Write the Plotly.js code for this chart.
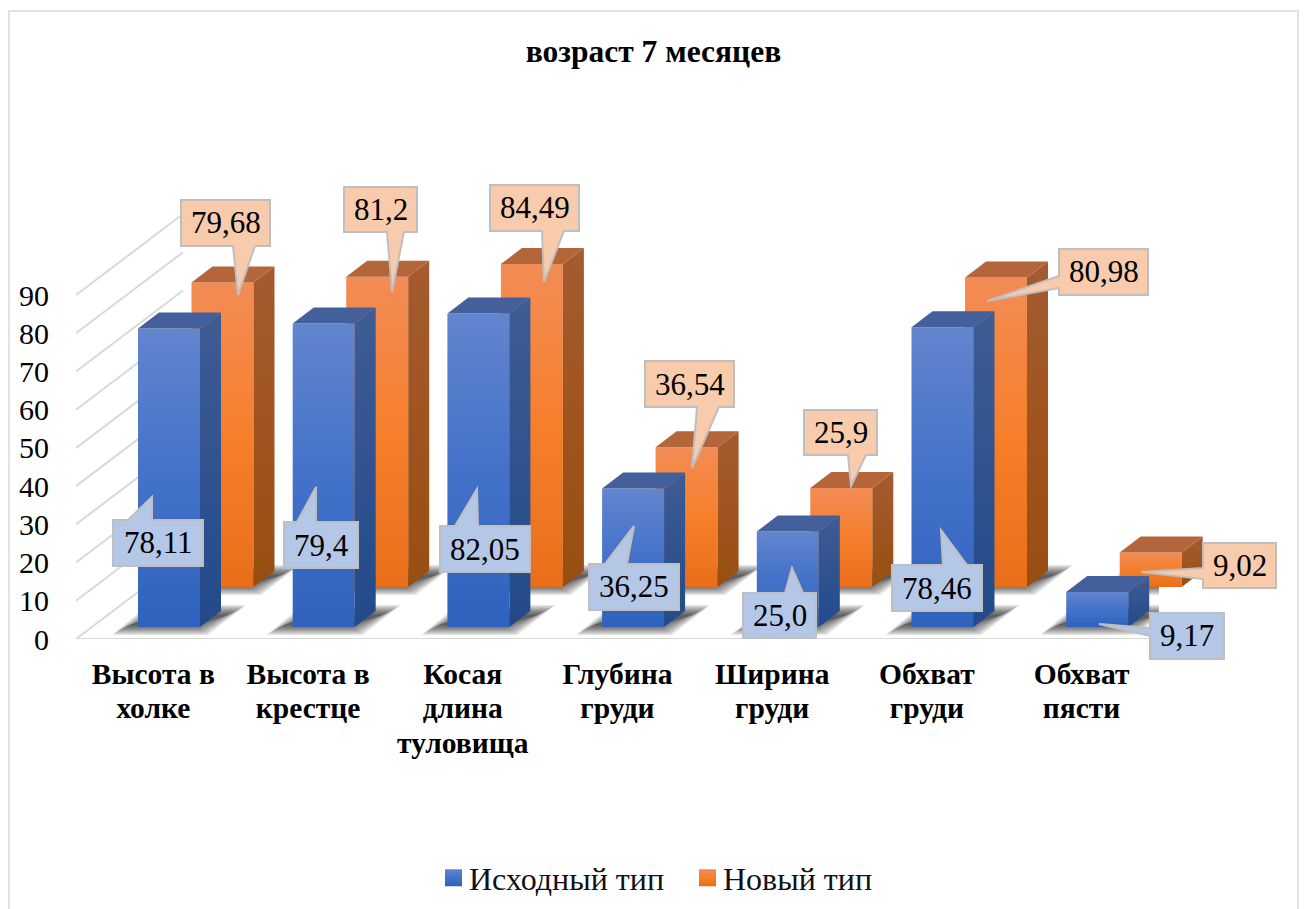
<!DOCTYPE html>
<html>
<head>
<meta charset="utf-8">
<script src="https://cdn.plot.ly/plotly-3.0.1.min.js"></script>
<style>html,body{margin:0;padding:0;background:#fff;overflow:hidden}#chart{width:1305px;height:909px}</style>
</head>
<body>
<div id="chart"></div>
<script>
// ---------- data ----------
const categories = ['Высота в<br>холке','Высота в<br>крестце','Косая<br>длина<br>туловища','Глубина<br>груди','Ширина<br>груди','Обхват<br>груди','Обхват<br>пясти'];
const baseValues = [78.11,79.4,82.05,36.25,25.0,78.46,9.17];
const newValues  = [79.68,81.2,84.49,36.54,25.9,80.98,9.02];
const baseLabels = ['78,11','79,4','82,05','36,25','25,0','78,46','9,17'];
const newLabels  = ['79,68','81,2','84,49','36,54','25,9','80,98','9,02'];
const yTicks = [0,10,20,30,40,50,60,70,80,90];
const seriesNames = ['Исходный тип','Новый тип'];
const chartTitle = 'возраст 7 месяцев';

// ---------- layout constants (pixels on the 1305x909 page) ----------
const W=1305,H=909,FONT='"Liberation Serif","Times New Roman",serif';
const PX_CAT=154.7, PX_UNIT=3.822;
const px2x=p=>p/PX_CAT, px2y=p=>p/PX_UNIT;
const HALF=px2x(31), DX=px2x(21), DY=px2y(16);
const xDom=(l,span)=>[l/W,(l+span*PX_CAT)/W];
const yDom=(bottom,range)=>[(H-bottom)/H,(H-bottom+range*PX_UNIT)/H];
const ROWS={ blue:{left:91.65,bottom:627}, orange:{left:145.15,bottom:587} };
const FLOOR={left:76,bottom:639};
const WALL={left:183,bottom:559};
const idx=categories.map((_,i)=>i);

// callouts relative to the top centre of their bar: [left,top,right,bottom,side,a,b,tipX,tipY], y down
const baseCallouts=[
 [-56,191.5,34,237.5,'T',-41,-17,-17,168.5],
 [-39.7,198.5,34.3,244.5,'T',-26.7,-7.7,-7.7,163.5],
 [-38.4,212.6,51.6,258.6,'T',-23.4,-0.4,-1.4,175.6],
 [-44.1,75.5,45.9,121.5,'T',-28.1,-6.1,0.9,37.5],
 [-44.8,61.55,28.2,106.55,'T',-2.8,15.2,4.2,36.55],
 [-50.5,237.9,39.5,283.9,'T',0.5,24.5,-1.5,202.9],
 [52.8,21,126.8,67,'L',36,44,1.8,32]];
const newCallouts=[
 [-41.5,-82.5,47.5,-36.5,'B',10.5,32.5,15.5,12.5],
 [-33.2,-89.7,39.8,-44.7,'B',9.8,26.8,14.8,15.3],
 [-41.9,-79.1,47.1,-33.1,'B',10.1,32.1,12.1,17.9],
 [-41.6,-86.3,47.4,-40.3,'B',10.4,32.4,5.4,20.7],
 [-37.3,-78,35.7,-33,'B',6.7,24.7,9.7,-2],
 [63,-28.5,152,17.5,'L',-1.5,10.5,-9,23.5],
 [52.3,-9.5,125.3,35.5,'L',15.5,26.5,-9.7,19.5]];

// ---------- traces ----------
const traces=[];
// floor and left wall lines (floor axes)
const gridX=[],gridY=[];
yTicks.forEach(v=>{gridX.push(-0.5,-0.5+px2x(107),null);gridY.push(v,v+px2y(81),null);});
gridX.push(-0.5,6.5);gridY.push(0,0);
traces.push({x:gridX,y:gridY,xaxis:'x2',yaxis:'y2',mode:'lines',line:{color:'#d9d9d9',width:2},hoverinfo:'skip',showlegend:false});
// floor shadows: nested translucent layers give a soft edge
const SHADOW_STEPS=[5,3.75,2.5,1.25,0,-1.25,-2.5,-3.75,-5];
function shadowTrace(count,xOff,base,d){
  const xs=[],ys=[];
  for(let i=0;i<count;i++){
    const cx=i+px2x(xOff), w=px2y(base);
    const k=1.6*d;
    [[-49-k,-3-d],[31+k,-3-d],[69+k,17+d],[-13-k,17+d],[-49-k,-3-d]].forEach(p=>{xs.push(cx+px2x(p[0]));ys.push(w+px2y(p[1]));});
    xs.push(null);ys.push(null);
  }
  return {x:xs,y:ys,xaxis:'x2',yaxis:'y2',mode:'none',fill:'toself',fillcolor:'rgba(0,0,0,0.10)',hoverinfo:'skip',showlegend:false};
}
SHADOW_STEPS.forEach(d=>{
  traces.push(shadowTrace(newValues.length,222.5-153.35,FLOOR.bottom-ROWS.orange.bottom,d));
  traces.push(shadowTrace(baseValues.length,169-153.35,FLOOR.bottom-ROWS.blue.bottom,d));
});
// one bar row = front faces + side faces + top faces
function row(values,name,xa,ya,front,top){
  traces.push({type:'bar',x:idx,y:values,name:name,width:2*HALF,xaxis:xa,yaxis:ya,marker:{color:front,line:{width:0}},hoverinfo:'skip',showlegend:true});
  values.forEach((v,i)=>{
    const r=i+HALF;
    traces.push({x:[r,r+DX,r+DX,r,r],y:[0,DY,v+DY,v,0],xaxis:xa,yaxis:ya,mode:'none',fill:'toself',fillcolor:top,hoverinfo:'skip',showlegend:false});
  });
  const tx=[],ty=[];
  values.forEach((v,i)=>{tx.push(i-HALF,i+HALF,i+HALF+DX,i-HALF+DX,i-HALF,null);ty.push(v,v,v+DY,v+DY,v,null);});
  traces.push({x:tx,y:ty,xaxis:xa,yaxis:ya,mode:'none',fill:'toself',fillcolor:top,hoverinfo:'skip',showlegend:false});
}
row(newValues,seriesNames[1],'x3','y3','#f57f2e','#b4663a');
row(baseValues,seriesNames[0],'x4','y4','#4472c4','#43609c');

// ---------- callouts ----------
const shapes=[{type:'rect',xref:'paper',yref:'paper',x0:9/W,x1:1298/W,y0:-0.05,y1:(H-11)/H,line:{color:'#e2e2e2',width:2},fillcolor:'rgba(0,0,0,0)',layer:'below'}];
const annotations=[];
function callouts(values,labels,table,xa,ya,fill){
  table.forEach((c,i)=>{
    const [l,t,r,b,side,a,e,tx,ty]=c;
    let pts;
    if(side==='T') pts=[[l,t],[a,t],[tx,ty],[e,t],[r,t],[r,b],[l,b]];
    else if(side==='B') pts=[[l,t],[r,t],[r,b],[e,b],[tx,ty],[a,b],[l,b]];
    else pts=[[l,t],[r,t],[r,b],[l,b],[l,e],[tx,ty],[l,a]];
    const path=pts.map((p,k)=>(k?'L':'M')+p[0]+','+(-p[1])).join(' ')+' Z';
    shapes.push({type:'path',xref:xa,yref:ya,xsizemode:'pixel',ysizemode:'pixel',xanchor:i,yanchor:values[i],path:path,fillcolor:fill,line:{color:'#bfbfbf',width:2},layer:'above'});
    annotations.push({xref:xa,yref:ya,x:i,y:values[i],xshift:(l+r)/2,yshift:-(t+b)/2,text:labels[i],showarrow:false,xanchor:'center',yanchor:'middle',font:{family:FONT,size:31,color:'#000'}});
  });
}
callouts(newValues,newLabels,newCallouts,'x3','y3','#f8cbad');
callouts(baseValues,baseLabels,baseCallouts,'x4','y4','#b4c7e7');

const ROW_X_MAX=6.9, ROW_Y_MIN=-10, ROW_Y_MAX=110;
const hiddenX=(l)=>({domain:xDom(l,ROW_X_MAX+0.5),range:[-0.5,ROW_X_MAX],visible:false,fixedrange:true});
const hiddenY=(b)=>({domain:yDom(b+(-ROW_Y_MIN)*PX_UNIT,ROW_Y_MAX-ROW_Y_MIN),range:[ROW_Y_MIN,ROW_Y_MAX],visible:false,fixedrange:true});
const layout={
  width:W,height:H,margin:{l:0,r:0,t:0,b:0},paper_bgcolor:'#fff',plot_bgcolor:'rgba(0,0,0,0)',
  font:{family:FONT,color:'#000'},
  title:{text:chartTitle,x:653.5/W,xanchor:'center',y:1-51/H,yanchor:'middle',font:{family:FONT,size:31.5,weight:700,color:'#000'}},
  showlegend:true,
  legend:{orientation:'h',x:429/W,xanchor:'left',y:1-878/H,yanchor:'middle',font:{family:FONT,size:32,color:'#111'},traceorder:'reversed',entrywidth:209,entrywidthmode:'pixels',bgcolor:'rgba(0,0,0,0)'},
  xaxis:{domain:xDom(WALL.left,7),range:[-0.5,6.5],visible:false,fixedrange:true},
  yaxis:{domain:yDom(WALL.bottom,90),range:[0,90],tickvals:yTicks,showticklabels:false,ticks:'',showline:false,showgrid:true,gridcolor:'#d9d9d9',gridwidth:2,zeroline:true,zerolinecolor:'#d9d9d9',zerolinewidth:2,fixedrange:true},
  xaxis2:{domain:xDom(FLOOR.left,7),range:[-0.5,6.5],tickvals:idx,ticktext:categories,showgrid:false,zeroline:false,showline:false,ticks:'',ticklabelstandoff:14,tickangle:0,tickfont:{family:FONT,size:29.5,weight:700,color:'#000'},fixedrange:true,anchor:'y2'},
  yaxis2:{domain:yDom(FLOOR.bottom,120),range:[0,120],tickvals:yTicks,showgrid:false,zeroline:false,showline:false,ticks:'',ticklabelstandoff:26,tickfont:{family:FONT,size:30,color:'#000'},fixedrange:true,anchor:'x2'},
  xaxis3:hiddenX(ROWS.orange.left),yaxis3:hiddenY(ROWS.orange.bottom),
  xaxis4:hiddenX(ROWS.blue.left),yaxis4:hiddenY(ROWS.blue.bottom),
  shapes:shapes,annotations:annotations
};
layout.xaxis3.anchor='y3';layout.yaxis3.anchor='x3';layout.xaxis4.anchor='y4';layout.yaxis4.anchor='x4';

Plotly.newPlot('chart',traces,layout,{displayModeBar:false,staticPlot:true}).then(gd=>{
  // gradient paints
  const NS='http://www.w3.org/2000/svg';
  const svg=gd.querySelector('svg.main-svg');
  const defs=svg.querySelector('defs')||svg.insertBefore(document.createElementNS(NS,'defs'),svg.firstChild);
  const grad=(id,stops)=>{
    const g=document.createElementNS(NS,'linearGradient');
    g.setAttribute('id',id);g.setAttribute('x1','0');g.setAttribute('y1','0');g.setAttribute('x2','0');g.setAttribute('y2','1');
    stops.forEach(s=>{const e=document.createElementNS(NS,'stop');e.setAttribute('offset',s[0]);e.setAttribute('stop-color',s[1]);g.appendChild(e);});
    defs.appendChild(g);
  };
  grad('gBlue',[[0,'#6285ce'],[0.5,'#4472c9'],[1,'#2f62bd']]);
  grad('gOrange',[[0,'#f28c55'],[0.5,'#f67f2c'],[1,'#e96e1a']]);
  grad('gBlueSide',[[0,'#3f5c94'],[1,'#224a8b']]);
  grad('gOrangeSide',[[0,'#a65b30'],[1,'#994e10']]);
  const paint=(sub,front,side)=>{
    const s=gd.querySelector('.subplot.'+sub);
    s.querySelectorAll('.barlayer .point path').forEach(p=>p.style.fill='url(#'+front+')');
    const fills=s.querySelectorAll('.scatterlayer .trace path.js-fill');
    fills.forEach((p,i)=>{if(i<7)p.style.fill='url(#'+side+')';});
  };
  paint('x3y3','gOrange','gOrangeSide');
  paint('x4y4','gBlue','gBlueSide');
  // legend swatches
  gd.querySelectorAll('.legend .traces').forEach((it)=>{
    const isBlue=it.textContent.indexOf(seriesNames[0])>=0;
    it.querySelectorAll('.legendpoints path').forEach(p=>{
      p.style.fill='url(#'+(isBlue?'gBlue':'gOrange')+')';
      p.style.stroke='none';
      p.setAttribute('d','M13,8.5H-4V-8.5H13z');
    });
  });
  // line spacing of the category labels
  gd.querySelectorAll('.xaxislayer-above .x2tick text tspan.line').forEach(t=>{
    const m=/([\d.]+)em/.exec(t.getAttribute('dy')||'');
    if(m)t.setAttribute('dy',(parseFloat(m[1])/1.3*1.186)+'em');
  });
});
</script>
</body>
</html>
